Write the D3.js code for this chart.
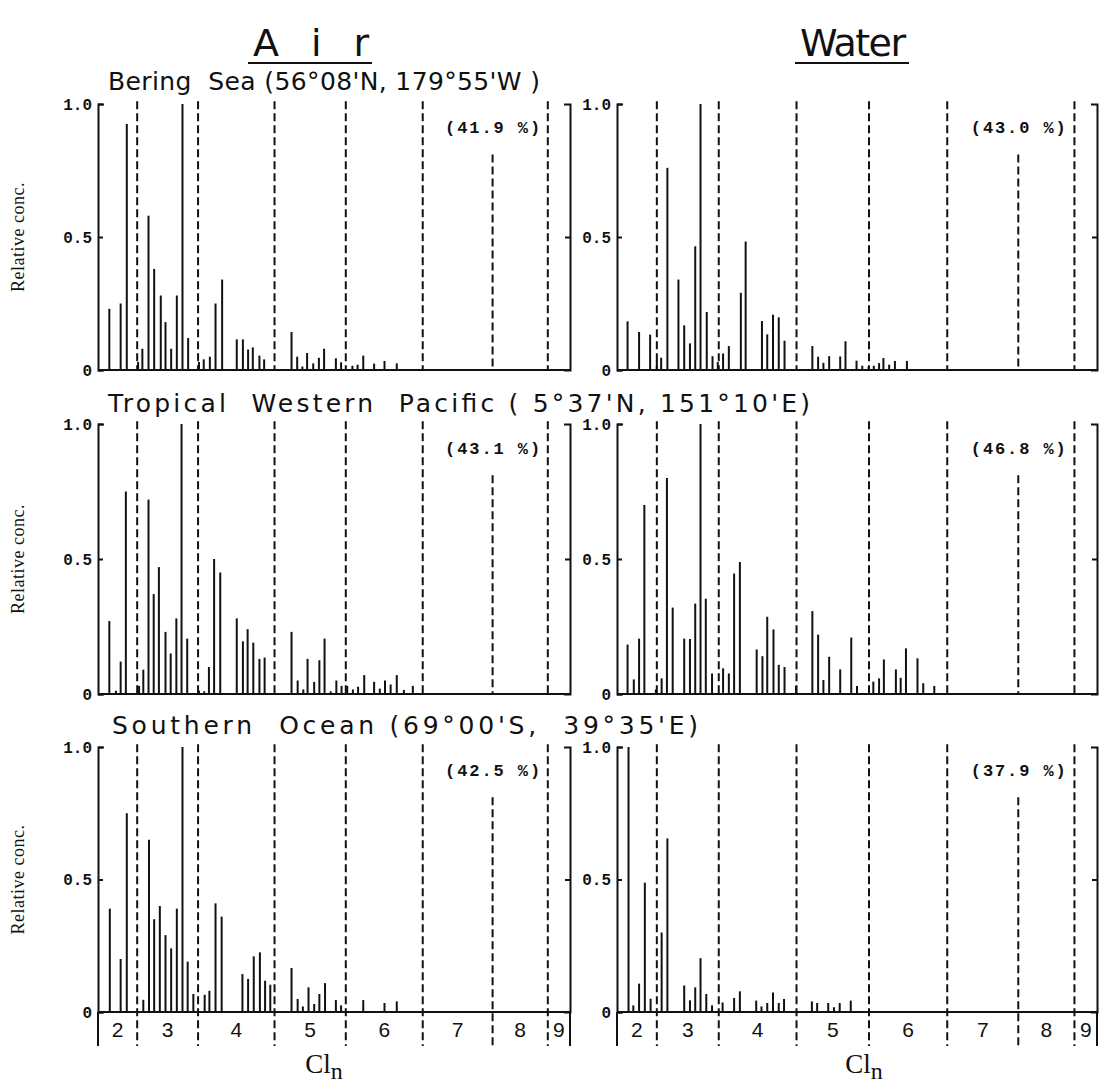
<html>
<script src='https://d3js.org/d3.v7.min.js'></script>
<style>
    body { margin: 0; background: #fff; }
    text { fill: #111; }
</style>
<body>
<div id="chart"></div>
<script>
    // peaks: [position across panel (0-100), relative conc.]
    var airBering = [[2.4, 0.23], [4.8, 0.25], [6.1, 0.925], [8.5, 0.03], [9.4, 0.08], [10.7, 0.58], [11.9, 0.38],
        [13.3, 0.28], [14.3, 0.18], [15.5, 0.08], [16.7, 0.28], [17.9, 1.0], [19.1, 0.12], [21.4, 0.03], [22.4, 0.04],
        [23.7, 0.05], [24.9, 0.25], [26.3, 0.34], [29.4, 0.115], [30.7, 0.115], [31.8, 0.077], [32.8, 0.085],
        [34.2, 0.054], [35.2, 0.04], [41.0, 0.143], [42.2, 0.05], [43.3, 0.013], [44.3, 0.064], [45.6, 0.025],
        [46.8, 0.046], [47.9, 0.08], [50.4, 0.044], [51.5, 0.029], [53.9, 0.016], [55.0, 0.02], [56.2, 0.054],
        [58.5, 0.024], [60.7, 0.034], [63.3, 0.025]];
    var airTropical = [[2.4, 0.27], [3.8, 0.012], [4.8, 0.12], [5.9, 0.75], [8.7, 0.03], [9.6, 0.09], [10.7, 0.72],
        [11.8, 0.37], [12.9, 0.47], [14.3, 0.23], [15.4, 0.15], [16.6, 0.28], [17.7, 1.0], [18.9, 0.205], [21.4, 0.012],
        [22.5, 0.01], [23.5, 0.10], [24.6, 0.50], [25.9, 0.45], [29.4, 0.28], [30.7, 0.195], [31.7, 0.24], [32.9, 0.19],
        [34.2, 0.13], [35.3, 0.135], [41.0, 0.23], [42.3, 0.05], [43.5, 0.017], [44.4, 0.13], [45.8, 0.045],
        [46.9, 0.125], [48.0, 0.205], [49.3, 0.01], [50.5, 0.05], [51.6, 0.03], [52.8, 0.03], [54.0, 0.017],
        [55.1, 0.027], [56.4, 0.07], [58.5, 0.045], [59.7, 0.02], [60.8, 0.05], [62.0, 0.035], [63.3, 0.07],
        [64.8, 0.015], [66.7, 0.03]];
    var airSouthern = [[2.5, 0.39], [4.8, 0.20], [6.1, 0.75], [9.6, 0.046], [10.8, 0.65], [11.9, 0.35], [13.1, 0.40],
        [14.3, 0.29], [15.5, 0.24], [16.7, 0.39], [17.9, 1.0], [19.0, 0.19], [20.2, 0.068], [22.6, 0.065], [23.6, 0.08],
        [24.9, 0.41], [26.2, 0.36], [30.6, 0.143], [31.8, 0.125], [33.0, 0.21], [34.3, 0.225], [35.4, 0.118],
        [36.5, 0.103], [41.0, 0.166], [42.3, 0.049], [43.4, 0.021], [44.6, 0.093], [45.8, 0.03], [46.9, 0.068],
        [48.1, 0.109], [50.4, 0.045], [51.5, 0.025], [56.2, 0.045], [60.7, 0.034], [63.3, 0.04]];
    var waterBering = [[2.2, 0.183], [4.6, 0.143], [6.9, 0.133], [8.3, 0.037], [9.2, 0.046], [10.5, 0.76], [12.8, 0.34],
        [14.0, 0.168], [15.2, 0.10], [16.3, 0.465], [17.4, 1.0], [18.7, 0.218], [19.9, 0.052], [21.0, 0.03],
        [22.1, 0.062], [23.3, 0.09], [25.8, 0.29], [26.8, 0.483], [30.2, 0.184], [31.3, 0.134], [32.5, 0.208],
        [33.7, 0.198], [34.9, 0.11], [40.7, 0.09], [41.9, 0.05], [43.0, 0.027], [44.2, 0.052], [46.5, 0.051],
        [47.6, 0.108], [49.9, 0.035], [51.1, 0.016], [52.4, 0.012], [53.5, 0.016], [54.6, 0.026], [55.5, 0.045],
        [56.7, 0.02], [57.9, 0.034], [60.4, 0.034]];
    var waterTropical = [[2.2, 0.183], [3.5, 0.054], [4.6, 0.205], [5.7, 0.70], [8.1, 0.017], [9.3, 0.058], [10.4, 0.80],
        [11.6, 0.32], [14.0, 0.205], [15.2, 0.204], [16.3, 0.335], [17.4, 1.0], [18.5, 0.353], [19.8, 0.076],
        [22.1, 0.095], [23.3, 0.076], [24.4, 0.446], [25.6, 0.489], [29.1, 0.165], [30.3, 0.14], [31.3, 0.286],
        [32.6, 0.239], [33.7, 0.108], [34.9, 0.10], [37.3, 0.03], [40.7, 0.307], [41.9, 0.22], [43.0, 0.052],
        [44.2, 0.138], [46.5, 0.091], [48.8, 0.209], [50.0, 0.03], [53.4, 0.046], [54.6, 0.058], [55.6, 0.128],
        [58.1, 0.091], [59.1, 0.06], [60.2, 0.169], [62.6, 0.132], [63.8, 0.04], [66.1, 0.03]];
    var waterSouthern = [[2.4, 1.0], [3.4, 0.025], [4.6, 0.107], [5.8, 0.488], [7.0, 0.05], [9.3, 0.30], [10.5, 0.655],
        [14.0, 0.10], [15.2, 0.044], [16.3, 0.093], [17.4, 0.203], [18.6, 0.068], [19.8, 0.025], [22.0, 0.036],
        [24.4, 0.053], [25.6, 0.078], [29.0, 0.043], [30.1, 0.021], [31.3, 0.034], [32.5, 0.074], [33.7, 0.034],
        [34.8, 0.049], [40.6, 0.04], [41.7, 0.034], [44.0, 0.034], [45.2, 0.018], [46.4, 0.034], [48.7, 0.043]];

    // Cl number groups and where they split (same 0-100 units)
    var groupLabels = ["2", "3", "4", "5", "6", "7", "8", "9"];
    var groupBounds = [8.3, 21.2, 37.4, 52.5, 68.8, 83.6, 95.3];

    var siteTitles = ["Bering  Sea (56°08'N, 179°55'W )",
        "Tropical  Western  Pacific ( 5°37'N, 151°10'E)",
        "Southern  Ocean (69°00'S,  39°35'E)"];
    var airPercents = ["(41.9 %)", "(43.1 %)", "(42.5 %)"];
    var waterPercents = ["(43.0 %)", "(46.8 %)", "(37.9 %)"];
    var yTicks = [0, 0.5, 1.0];

    var width = 1102;
    var height = 1089;
    var cols = [{ x0: 98, x1: 570, clX: 324 }, { x0: 617, x1: 1097, clX: 864 }];
    var rows = [{ top: 104, bottom: 370, titleX: 108, titleY: 90, titleW: 432 },
        { top: 424, bottom: 694, titleX: 108, titleY: 412, titleW: 702 },
        { top: 747, bottom: 1012, titleX: 112, titleY: 734, titleW: 586 }];
    var stripBottom = 1046;

    var svg = d3.select("#chart").append("svg")
        .attr("width", width)
        .attr("height", height);

    function drawPanel(data, col, row, pct, isBottom) {
        var xs = d3.scaleLinear().domain([0, 100]).range([col.x0, col.x1]);
        var ys = d3.scaleLinear().domain([0, 1]).range([row.bottom, row.top]);
        var g = svg.append("g");

        // left axis, ticks inward
        g.append("g")
            .attr("transform", "translate(" + col.x0 + ",0)")
            .call(d3.axisLeft(ys).tickValues(yTicks).tickSize(-5).tickSizeOuter(-6).tickPadding(6)
                .tickFormat(function (d) { return d == 0 ? "0" : d3.format(".1f")(d); }))
            .call(function (a) {
                a.selectAll("path, line").attr("stroke", "#111").attr("stroke-width", 2);
                a.selectAll("text").style("font-family", "Liberation Mono").style("font-size", "16px")
                    .style("font-weight", "bold").attr("fill", "#111");
            });
        // right axis
        g.append("g")
            .attr("transform", "translate(" + col.x1 + ",0)")
            .call(d3.axisRight(ys).tickValues([0.5]).tickSize(-5).tickSizeOuter(-6).tickFormat(""))
            .call(function (a) {
                a.selectAll("path, line").attr("stroke", "#111").attr("stroke-width", 2);
            });
        // baseline
        g.append("line")
            .attr("x1", col.x0).attr("x2", col.x1)
            .attr("y1", ys(0)).attr("y2", ys(0))
            .attr("stroke", "#111").attr("stroke-width", 2);

        // group separators
        g.selectAll(".sep").data(groupBounds).enter().append("line")
            .attr("x1", function (d) { return xs(d); })
            .attr("x2", function (d) { return xs(d); })
            .attr("y1", function (d, i) { return i == 5 ? ys(0.81) : ys(1.01); })
            .attr("y2", isBottom ? stripBottom : ys(0))
            .attr("stroke", "#111").attr("stroke-width", 2)
            .style("stroke-dasharray", "8, 4");

        // peaks
        g.selectAll(".peak").data(data).enter().append("line")
            .attr("x1", function (d) { return xs(d[0]); })
            .attr("x2", function (d) { return xs(d[0]); })
            .attr("y1", ys(0))
            .attr("y2", function (d) { return ys(d[1]); })
            .attr("stroke", "#111").attr("stroke-width", 2);

        g.append("text")
            .attr("x", xs(83.6)).attr("y", ys(0.89))
            .attr("text-anchor", "middle")
            .attr("textLength", 95).attr("lengthAdjust", "spacing")
            .style("font-family", "Liberation Mono").style("font-size", "17px").style("font-weight", "bold")
            .style("white-space", "pre")
            .text(pct);

        if (isBottom) {
            // frame continues down through the Cl number strip
            g.append("line").attr("x1", col.x0).attr("x2", col.x0).attr("y1", ys(0)).attr("y2", stripBottom)
                .attr("stroke", "#111").attr("stroke-width", 2);
            g.append("line").attr("x1", col.x1).attr("x2", col.x1).attr("y1", ys(0)).attr("y2", stripBottom)
                .attr("stroke", "#111").attr("stroke-width", 2);
            var edges = [0].concat(groupBounds).concat([100]);
            g.selectAll(".glab").data(groupLabels).enter().append("text")
                .attr("x", function (d, i) { return xs((edges[i] + edges[i + 1]) / 2); })
                .attr("y", 1037)
                .attr("text-anchor", "middle")
                .style("font-family", "Liberation Sans").style("font-size", "21px")
                .text(function (d) { return d; });
            var cl = g.append("text")
                .attr("x", col.clX).attr("y", 1073)
                .attr("text-anchor", "middle")
                .style("font-family", "Liberation Serif").style("font-size", "27px");
            cl.append("tspan").text("Cl");
            cl.append("tspan").attr("dy", 6).style("font-size", "24px").text("n");
        }
    }

    var airData = [airBering, airTropical, airSouthern];
    var waterData = [waterBering, waterTropical, waterSouthern];
    rows.forEach(function (row, i) {
        drawPanel(airData[i], cols[0], row, airPercents[i], i == 2);
        drawPanel(waterData[i], cols[1], row, waterPercents[i], i == 2);

        svg.append("text")
            .attr("x", row.titleX).attr("y", row.titleY)
            .attr("textLength", row.titleW).attr("lengthAdjust", "spacing")
            .style("font-family", "DejaVu Sans").style("font-size", "25px")
            .style("white-space", "pre")
            .text(siteTitles[i]);

        svg.append("text")
            .attr("transform", "translate(24," + ((row.top + row.bottom) / 2) + ") rotate(-90)")
            .attr("text-anchor", "middle")
            .style("font-family", "Liberation Serif").style("font-size", "18px")
            .style("letter-spacing", "0.5px")
            .text("Relative conc.");
    });

    // column headings
    var heads = [{ t: "A i r", x: 311, w: 116 }, { t: "Water", x: 853, w: 106 }];
    heads.forEach(function (h) {
        svg.append("text")
            .attr("x", h.x - h.w / 2).attr("y", 56)
            .attr("textLength", h.w).attr("lengthAdjust", "spacing")
            .style("font-family", "DejaVu Sans").style("font-size", "38px")
            .style("white-space", "pre")
            .text(h.t);
        svg.append("line")
            .attr("x1", h.x - h.w / 2 - 5).attr("x2", h.x + h.w / 2 + 3)
            .attr("y1", 63).attr("y2", 63)
            .attr("stroke", "#111").attr("stroke-width", 2);
    });
</script>
</body>
</html>
